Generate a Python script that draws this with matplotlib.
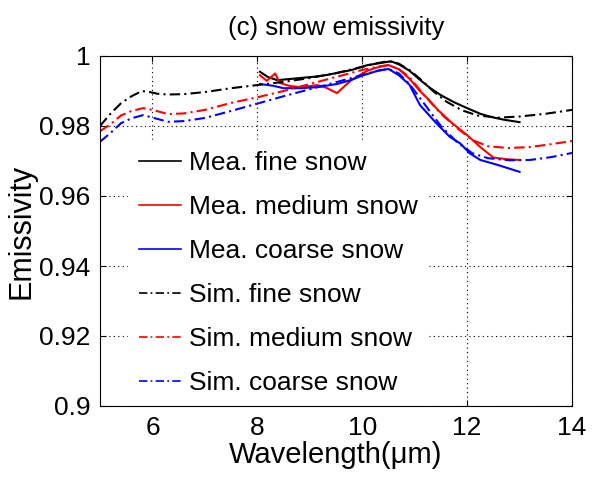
import matplotlib
matplotlib.use("Agg")
import matplotlib.pyplot as plt
import numpy as np

plt.rcParams['font.family'] = ['Liberation Sans', 'DejaVu Sans']

# Simulated spectra (x in um)
sim_fine_x = [5.0, 5.2, 5.4, 5.6, 5.8, 5.95, 6.1, 6.3, 6.6, 7.0, 7.5, 8.0, 8.5, 9.0, 9.5, 10.0, 10.3, 10.5, 10.7, 10.9, 11.1, 11.35, 11.6, 11.9, 12.2, 12.6, 13.0, 13.5, 14.0]
sim_fine_y = [0.9800, 0.9835, 0.9865, 0.9885, 0.9900, 0.9897, 0.9892, 0.9890, 0.9891, 0.9897, 0.9908, 0.9917, 0.9926, 0.9937, 0.9951, 0.9969, 0.9980, 0.9985, 0.9978, 0.9960, 0.9935, 0.9900, 0.9870, 0.9845, 0.9830, 0.9824, 0.9827, 0.9835, 0.9846]

sim_med_x = [5.0, 5.2, 5.4, 5.6, 5.82, 6.0, 6.3, 6.6, 7.0, 7.5, 8.0, 8.5, 9.0, 9.5, 10.0, 10.3, 10.5, 10.7, 10.9, 11.2, 11.5, 11.8, 12.1, 12.4, 12.8, 13.2, 13.6, 14.0]
sim_med_y = [0.9785, 0.9805, 0.9830, 0.9843, 0.9851, 0.9846, 0.9834, 0.9836, 0.9846, 0.9866, 0.9882, 0.9900, 0.9920, 0.9940, 0.9960, 0.9970, 0.9974, 0.9962, 0.9940, 0.9885, 0.9835, 0.9795, 0.9760, 0.9742, 0.9737, 0.9740, 0.9748, 0.9757]

sim_coarse_x = [5.0, 5.2, 5.4, 5.6, 5.82, 6.0, 6.3, 6.6, 7.0, 7.5, 8.0, 8.5, 9.0, 9.5, 10.0, 10.3, 10.5, 10.7, 10.9, 11.2, 11.5, 11.8, 12.1, 12.4, 12.8, 13.2, 13.6, 14.0]
sim_coarse_y = [0.9755, 0.9780, 0.9808, 0.9822, 0.9831, 0.9824, 0.9812, 0.9814, 0.9823, 0.9843, 0.9864, 0.9885, 0.9905, 0.9925, 0.9946, 0.9958, 0.9963, 0.9950, 0.9920, 0.9860, 0.9800, 0.9755, 0.9722, 0.9708, 0.9702, 0.9703, 0.9711, 0.9723]

# Measured spectra
mea_fine_x = [8.05, 8.2, 8.38, 8.6, 8.81, 9.1, 9.33, 9.6, 9.8, 10.1, 10.35, 10.55, 10.7, 10.9, 11.1, 11.3, 11.5, 11.75, 12.0, 12.25, 12.45, 12.7, 13.0]
mea_fine_y = [0.9955, 0.9940, 0.9931, 0.9934, 0.9937, 0.9941, 0.9946, 0.9954, 0.9960, 0.9974, 0.9980, 0.9985, 0.9976, 0.9958, 0.9932, 0.9908, 0.9888, 0.9868, 0.9851, 0.9835, 0.9826, 0.9818, 0.9811]

mea_med_x = [8.05, 8.18, 8.34, 8.43, 8.6, 8.81, 9.0, 9.14, 9.3, 9.52, 9.65, 9.8, 10.1, 10.3, 10.5, 10.7, 10.9, 11.1, 11.25, 11.45, 11.7, 12.0, 12.25, 12.5, 12.75, 13.0]
mea_med_y = [0.9945, 0.9929, 0.9950, 0.9923, 0.9915, 0.9911, 0.9914, 0.9917, 0.9910, 0.9894, 0.9912, 0.9932, 0.9958, 0.9968, 0.9974, 0.9962, 0.9935, 0.9900, 0.9878, 0.9845, 0.9810, 0.9774, 0.9740, 0.9710, 0.9705, 0.9703]

mea_coarse_x = [8.05, 8.3, 8.5, 8.8, 9.14, 9.52, 9.8, 10.0, 10.3, 10.5, 10.7, 10.9, 11.1, 11.4, 11.67, 11.87, 12.05, 12.25, 12.6, 13.0]
mea_coarse_y = [0.9920, 0.9915, 0.9908, 0.9908, 0.9911, 0.9920, 0.9932, 0.9944, 0.9958, 0.9963, 0.9945, 0.9918, 0.9860, 0.9810, 0.9769, 0.9750, 0.9722, 0.9703, 0.9688, 0.9669]

x_ticks = [6, 8, 10, 12, 14]
y_ticks = [0.9, 0.92, 0.94, 0.96, 0.98, 1.0]
y_tick_labels = ['0.9', '0.92', '0.94', '0.96', '0.98', '1']

W, H = 596, 490
fig = plt.figure(figsize=(W / 100, H / 100), dpi=100)
ax = fig.add_axes([100 / W, 1 - 406 / H, 472 / W, 350 / H])

lw = 1.5
dd = (0, (5, 2, 1, 2))
ax.plot(mea_fine_x, mea_fine_y, color='black', lw=lw, label='Mea. fine snow')
ax.plot(mea_med_x, mea_med_y, color='red', lw=lw, label='Mea. medium snow')
ax.plot(mea_coarse_x, mea_coarse_y, color='blue', lw=lw, label='Mea. coarse snow')
ax.plot(sim_fine_x, sim_fine_y, color='black', lw=lw, ls=dd, label='Sim. fine snow')
ax.plot(sim_med_x, sim_med_y, color='red', lw=lw, ls=dd, label='Sim. medium snow')
ax.plot(sim_coarse_x, sim_coarse_y, color='blue', lw=lw, ls=dd, label='Sim. coarse snow')

ax.set_xlim(5, 14)
ax.set_ylim(0.9, 1.0)
ax.set_xticks(x_ticks)
ax.set_yticks(y_ticks)
ax.set_yticklabels(y_tick_labels)
ax.tick_params(direction='in', length=4, labelsize=19, top=True, right=True, pad=7)
ax.grid(True, ls=(0, (1, 3)), color='black', lw=0.8)
for s in ax.spines.values():
    s.set_linewidth(0.8)

ax.set_title('(c) snow emissivity', fontsize=18.5, pad=15)
ax.set_xlabel('Wavelength(\u03bcm)', fontsize=21, labelpad=1)
ax.set_ylabel('Emissivity', fontsize=22, labelpad=2)

fs = 19
em = fs * 100 / 72
bp = 0.4
x0 = (140 - 100 - bp * em - 1) / 472
y0 = (406 - (151 - bp * em)) / 350
leg = ax.legend(loc='upper left', bbox_to_anchor=(x0, y0), fontsize=fs, frameon=True,
                fancybox=False, edgecolor='white', facecolor='white', framealpha=1,
                handlelength=1.6, handletextpad=0.3, labelspacing=0.76, borderpad=bp,
                borderaxespad=0)
leg.set_zorder(2.2)
for l in leg.get_lines():
    l.set_linewidth(1.2)

fig.savefig('out.png', dpi=100)
